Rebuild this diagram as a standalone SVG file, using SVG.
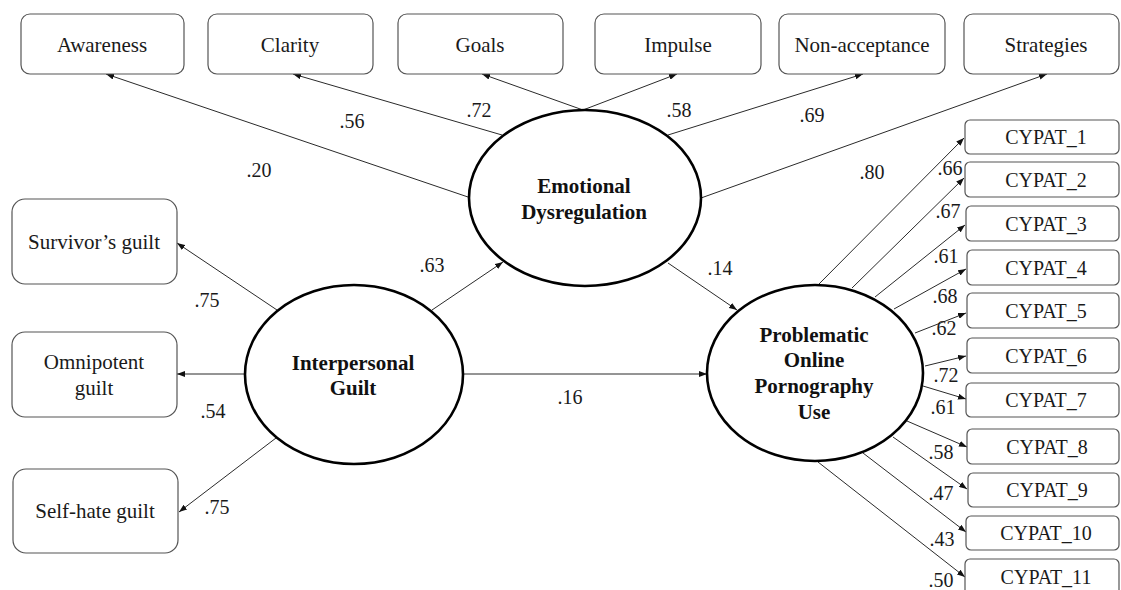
<svg xmlns="http://www.w3.org/2000/svg" width="1121" height="590" viewBox="0 0 1121 590">
<style>
  .box { fill: #ffffff; stroke: #555555; stroke-width: 1.2; }
  .lat { fill: #ffffff; stroke: #000000; stroke-width: 2.6; }
  text { font-family: 'Liberation Serif', 'DejaVu Serif', serif; fill: #1a1a1a; text-anchor: middle; }
  .t { font-size: 21px; }
  .cy { font-size: 20px; }
  .b { font-size: 21px; font-weight: bold; fill: #111111; }
  .c { font-size: 20px; }
  .ln { stroke: #2a2a2a; stroke-width: 1; fill: none; marker-end: url(#ah); }
</style>
<defs>
  <marker id="ah" markerWidth="8" markerHeight="6" refX="8" refY="3" orient="auto" markerUnits="userSpaceOnUse">
    <path d="M0,0 L8,3 L0,6 z" fill="#111111"/>
  </marker>
</defs>
<rect width="1121" height="590" fill="#ffffff"/>

<g id="connectors">
  <line class="ln" x1="468" y1="197" x2="106" y2="74"/>
  <line class="ln" x1="502" y1="135" x2="293" y2="74"/>
  <line class="ln" x1="583" y1="110" x2="482" y2="74"/>
  <line class="ln" x1="583" y1="110" x2="677" y2="74"/>
  <line class="ln" x1="668" y1="135" x2="863" y2="74"/>
  <line class="ln" x1="701" y1="198" x2="1047" y2="74"/>
  <line class="ln" x1="277" y1="310" x2="177" y2="243"/>
  <line class="ln" x1="245" y1="374" x2="177" y2="374"/>
  <line class="ln" x1="276" y1="438" x2="179" y2="512"/>
  <line class="ln" x1="432" y1="310" x2="503" y2="262"/>
  <line class="ln" x1="463" y1="374" x2="707" y2="374"/>
  <line class="ln" x1="668" y1="263" x2="737" y2="310"/>
  <line class="ln" x1="818" y1="285" x2="964" y2="138"/>
  <line class="ln" x1="852" y1="288" x2="964" y2="178"/>
  <line class="ln" x1="875" y1="297" x2="965" y2="225"/>
  <line class="ln" x1="894" y1="309" x2="966" y2="269"/>
  <line class="ln" x1="915" y1="333" x2="966" y2="313"/>
  <line class="ln" x1="925" y1="366" x2="966" y2="356"/>
  <line class="ln" x1="923" y1="386" x2="966" y2="399"/>
  <line class="ln" x1="907" y1="421" x2="967" y2="447"/>
  <line class="ln" x1="893" y1="437" x2="967" y2="489"/>
  <line class="ln" x1="863" y1="453" x2="966" y2="532"/>
  <line class="ln" x1="818" y1="462" x2="965" y2="577"/>
</g>

<g id="labels">
  <text class="c" x="259" y="177">.20</text>
  <text class="c" x="352" y="128">.56</text>
  <text class="c" x="479" y="117">.72</text>
  <text class="c" x="679" y="117">.58</text>
  <text class="c" x="812" y="122">.69</text>
  <text class="c" x="872" y="179">.80</text>
  <text class="c" x="432" y="272">.63</text>
  <text class="c" x="720" y="275">.14</text>
  <text class="c" x="570" y="404">.16</text>
  <text class="c" x="207" y="307">.75</text>
  <text class="c" x="213" y="418">.54</text>
  <text class="c" x="217" y="514">.75</text>
  <text class="c" x="950" y="175">.66</text>
  <text class="c" x="948" y="218">.67</text>
  <text class="c" x="946" y="263">.61</text>
  <text class="c" x="945" y="303">.68</text>
  <text class="c" x="944" y="335">.62</text>
  <text class="c" x="946" y="382">.72</text>
  <text class="c" x="943" y="414">.61</text>
  <text class="c" x="941" y="459">.58</text>
  <text class="c" x="941" y="500">.47</text>
  <text class="c" x="942" y="546">.43</text>
  <text class="c" x="941" y="587">.50</text>
</g>

<g id="awareness"><rect class="box" x="21" y="14" width="163" height="60" rx="9"/><text class="t" x="102" y="52">Awareness</text></g>
<g id="clarity"><rect class="box" x="208" y="14" width="165" height="60" rx="9"/><text class="t" x="290" y="52">Clarity</text></g>
<g id="goals"><rect class="box" x="398" y="14" width="165" height="60" rx="9"/><text class="t" x="480" y="52">Goals</text></g>
<g id="impulse"><rect class="box" x="595" y="14" width="166" height="60" rx="9"/><text class="t" x="678" y="52">Impulse</text></g>
<g id="nonacceptance"><rect class="box" x="779" y="14" width="166" height="60" rx="9"/><text class="t" x="862" y="52">Non-acceptance</text></g>
<g id="strategies"><rect class="box" x="964" y="14" width="155" height="60" rx="9"/><text class="t" x="1046" y="52">Strategies</text></g>

<g id="survivors"><rect class="box" x="12" y="199" width="165" height="85" rx="13"/><text class="t" x="94" y="249">Survivor’s guilt</text></g>
<g id="omnipotent"><rect class="box" x="12" y="332" width="165" height="85" rx="13"/><text class="t" x="94" y="369">Omnipotent</text><text class="t" x="94" y="395">guilt</text></g>
<g id="selfhate"><rect class="box" x="13" y="469" width="165" height="84" rx="13"/><text class="t" x="95" y="518">Self-hate guilt</text></g>

<g id="emotional-dysregulation"><ellipse class="lat" cx="585" cy="198" rx="116" ry="88"/><text class="b" x="584" y="193">Emotional</text><text class="b" x="584" y="219">Dysregulation</text></g>
<g id="interpersonal-guilt"><ellipse class="lat" cx="354" cy="374.5" rx="109" ry="89.5"/><text class="b" x="353" y="370">Interpersonal</text><text class="b" x="353" y="395">Guilt</text></g>
<g id="popu"><ellipse class="lat" cx="815" cy="373" rx="108" ry="88"/><text class="b" x="814" y="342">Problematic</text><text class="b" x="814" y="367">Online</text><text class="b" x="814" y="393">Pornography</text><text class="b" x="814" y="419">Use</text></g>

<g id="cypat1"><rect class="box" x="965" y="120" width="154" height="34" rx="5"/><text class="cy" x="1046" y="144">CYPAT_1</text></g>
<g id="cypat2"><rect class="box" x="965" y="162" width="154" height="35" rx="5"/><text class="cy" x="1046" y="187">CYPAT_2</text></g>
<g id="cypat3"><rect class="box" x="966" y="206" width="153" height="35" rx="5"/><text class="cy" x="1046" y="231">CYPAT_3</text></g>
<g id="cypat4"><rect class="box" x="967" y="250" width="152" height="35" rx="5"/><text class="cy" x="1046" y="275">CYPAT_4</text></g>
<g id="cypat5"><rect class="box" x="967" y="293" width="152" height="35" rx="5"/><text class="cy" x="1046" y="318">CYPAT_5</text></g>
<g id="cypat6"><rect class="box" x="967" y="338" width="152" height="35" rx="5"/><text class="cy" x="1046" y="363">CYPAT_6</text></g>
<g id="cypat7"><rect class="box" x="966" y="383" width="153" height="34" rx="5"/><text class="cy" x="1046" y="407">CYPAT_7</text></g>
<g id="cypat8"><rect class="box" x="967" y="429" width="152" height="35" rx="5"/><text class="cy" x="1047" y="454">CYPAT_8</text></g>
<g id="cypat9"><rect class="box" x="968" y="473" width="151" height="34" rx="5"/><text class="cy" x="1047" y="497">CYPAT_9</text></g>
<g id="cypat10"><rect class="box" x="966" y="516" width="153" height="34" rx="5"/><text class="cy" x="1046" y="540">CYPAT_10</text></g>
<g id="cypat11"><rect class="box" x="965" y="559" width="154" height="36" rx="5"/><text class="cy" x="1046" y="584">CYPAT_11</text></g>
</svg>
